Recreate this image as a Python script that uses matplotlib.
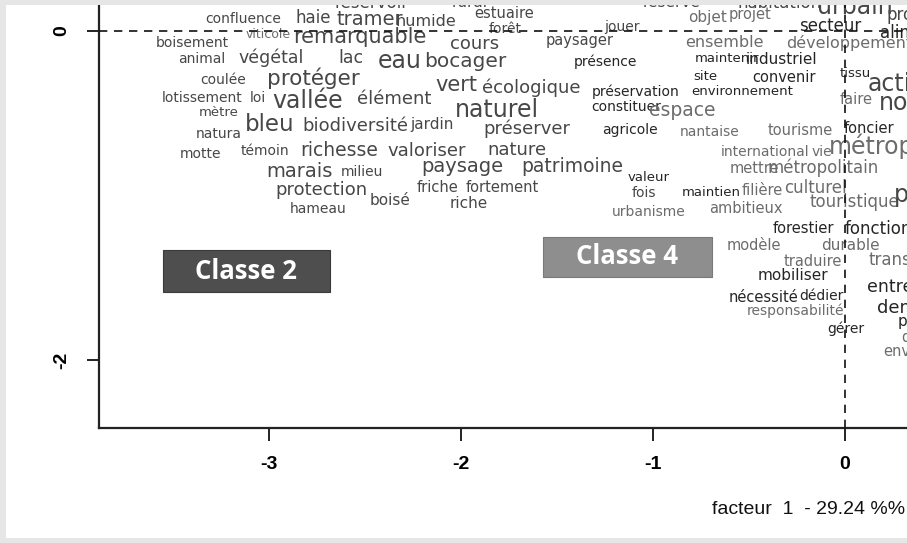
import numpy as np
import matplotlib
matplotlib.use('Agg')
import matplotlib.pyplot as plt
from matplotlib.patches import Rectangle

#--------------------------------------------------------------------------------
#Donnees : mots, coordonnees factorielles (facteur 1, facteur 2), chi2 et classe
#--------------------------------------------------------------------------------
mots = ['réservoir', 'rural', 'réserve', 'habitation', 'urbain', 'proximité', 'alimentaire',
        'confluence', 'haie', 'tramer', 'humide', 'estuaire', 'objet', 'projet', 'secteur',
        'viticole', 'remarquable', 'forêt', 'jouer', 'paysager', 'ensemble', 'développement',
        'boisement', 'cours', 'animal', 'végétal', 'lac', 'eau', 'bocager', 'présence',
        'maintenir', 'industriel', 'tissu', 'coulée', 'protéger', 'site', 'convenir', 'activité',
        'vert', 'écologique', 'préservation', 'environnement', 'lotissement', 'loi', 'vallée',
        'élément', 'faire', 'nouveau', 'constituer', 'espace', 'naturel', 'mètre', 'bleu',
        'biodiversité', 'jardin', 'préserver', 'agricole', 'nantaise', 'tourisme', 'foncier',
        'natura', 'motte', 'témoin', 'richesse', 'valoriser', 'nature', 'international', 'vie',
        'métropole', 'marais', 'milieu', 'paysage', 'patrimoine', 'mettre', 'métropolitain',
        'valeur', 'protection', 'boisé', 'friche', 'fortement', 'fois', 'maintien', 'filière',
        'culturel', 'touristique', 'port', 'hameau', 'riche', 'urbanisme', 'ambitieux',
        'forestier', 'fonctionnement', 'modèle', 'durable', 'traduire', 'transition',
        'mobiliser', 'entreprise', 'nécessité', 'dédier', 'responsabilité', 'demande',
        'produire', 'gérer', 'diversité', 'envisager']

f1 = [-2.464, -1.953, -0.901, -0.339, 0.052, 0.420, 0.427,
      -3.135, -2.771, -2.474, -2.182, -1.776, -0.714, -0.495, -0.078,
      -3.005, -2.526, -1.771, -1.161, -1.380, -0.630, 0.021,
      -3.401, -1.927, -3.349, -2.990, -2.573, -2.318, -1.979, -1.245,
      -0.615, -0.328, 0.052, -3.240, -2.771, -0.729, -0.318, 0.349,
      -2.026, -1.635, -1.089, -0.536, -3.349, -3.057, -2.797,
      -2.349, 0.057, 0.443, -1.141, -0.849, -1.813, -3.260, -2.995,
      -2.552, -2.151, -1.656, -1.120, -0.703, -0.234, 0.125,
      -3.260, -3.359, -3.021, -2.635, -2.177, -1.708, -0.417, -0.120,
      0.234, -2.839, -2.516, -1.995, -1.422, -0.474, -0.115,
      -1.021, -2.729, -2.370, -2.120, -1.786, -1.047, -0.698, -0.432,
      -0.151, 0.052, 0.380, -2.745, -1.958, -1.021, -0.516,
      -0.214, 0.340, -0.474, 0.031, -0.167, 0.328,
      -0.271, 0.349, -0.422, -0.120, -0.255, 0.390,
      0.443, 0.005, 0.458, 0.390]

f2 = [0.172, 0.172, 0.172, 0.172, 0.146, 0.097, -0.012,
      0.073, 0.079, 0.073, 0.061, 0.109, 0.085, 0.103, 0.030,
      -0.018, -0.036, 0.012, 0.024, -0.055, -0.067, -0.073,
      -0.073, -0.079, -0.170, -0.164, -0.164, -0.182, -0.188, -0.188,
      -0.164, -0.170, -0.255, -0.298, -0.286, -0.274, -0.280, -0.322,
      -0.328, -0.347, -0.371, -0.365, -0.407, -0.407, -0.426,
      -0.413, -0.413, -0.438, -0.462, -0.480, -0.480, -0.498, -0.565,
      -0.578, -0.571, -0.596, -0.602, -0.614, -0.602, -0.590,
      -0.626, -0.748, -0.729, -0.729, -0.729, -0.723, -0.736, -0.736,
      -0.699, -0.851, -0.857, -0.821, -0.821, -0.833, -0.833,
      -0.888, -0.967, -1.027, -0.948, -0.948, -0.985, -0.979, -0.967,
      -0.954, -1.040, -0.997, -1.082, -1.046, -1.100, -1.076,
      -1.198, -1.204, -1.301, -1.301, -1.398, -1.392,
      -1.483, -1.556, -1.617, -1.611, -1.702, -1.684,
      -1.763, -1.812, -1.860, -1.945]

chi2 = [60, 50, 50, 60, 110, 60, 60,
        40, 60, 80, 55, 45, 50, 45, 60,
        30, 90, 40, 40, 45, 55, 55,
        40, 70, 40, 65, 65, 110, 85, 40,
        35, 50, 35, 40, 95, 35, 45, 110,
        90, 70, 40, 35, 40, 40, 110,
        70, 45, 110, 40, 75, 110, 35, 105,
        70, 50, 70, 40, 40, 45, 45,
        40, 40, 40, 75, 70, 70, 40, 40,
        110, 80, 40, 80, 75, 45, 60,
        35, 70, 50, 45, 45, 40, 35, 45,
        60, 60, 110, 40, 50, 40, 45,
        45, 60, 45, 50, 45, 60,
        50, 65, 45, 40, 40, 70,
        50, 40, 45, 45]

classe = [2, 2, 2, 2, 2, 2, 1,
          2, 2, 2, 2, 2, 3, 3, 1,
          3, 2, 2, 2, 2, 3, 3,
          2, 2, 2, 2, 2, 2, 2, 1,
          1, 1, 1, 2, 2, 1, 1, 2,
          2, 2, 1, 1, 2, 2, 2,
          2, 3, 2, 1, 3, 2, 2, 2,
          2, 2, 2, 1, 3, 3, 1,
          2, 2, 2, 2, 2, 2, 3, 3,
          3, 2, 2, 2, 2, 3, 3,
          1, 2, 2, 2, 2, 2, 1, 3,
          3, 3, 2, 2, 2, 3, 3,
          1, 1, 3, 3, 3, 3,
          1, 1, 1, 1, 3, 1,
          1, 1, 3, 3]

ticks_x = [-3, -2, -1, 0]
ticks_y = [-2, 0]
titre_x = 'facteur  1  - 29.24 %%'

couleurs = {1: '#252525', 2: '#474747', 3: '#6c6c6c'}
police_axe = ['Liberation Sans Narrow', 'Liberation Sans', 'DejaVu Sans']

#--------------------------------------------------------------------------------
#Figure
#--------------------------------------------------------------------------------
fig = plt.figure(figsize=(9.07, 5.43), dpi=100, facecolor='white')
ax = fig.add_axes([0.1092, 0.2118, 0.9493, 0.837])
ax.set_xlim(-3.885, 0.6)
ax.set_ylim(-2.413, 0.35)

#Mots centres sur leurs coordonnees, taille selon le chi2
for m, x, y, c, k in zip(mots, f1, f2, chi2, classe):
    ax.text(x, y, m, ha='center', va='center', fontsize=6 + c / 10,
            color=couleurs[k], family='DejaVu Sans', zorder=2)

#Axes en pointilles
ax.axhline(0, color='#111111', lw=1.2, ls=(0, (5, 4)), zorder=5)
ax.axvline(0, color='#111111', lw=1.2, ls=(0, (5, 4)), zorder=5)

#Etiquettes des classes
ax.add_patch(Rectangle((-3.552, -1.587), 0.870, 0.256, facecolor='#4e4e4e',
                       edgecolor='#3a3a3a', lw=0.8, zorder=6))
ax.text(-3.117, -1.459, 'Classe 2', ha='center', va='center', color='white',
        fontsize=18.5, fontweight='bold', family='Open Sans', zorder=7)
ax.add_patch(Rectangle((-1.573, -1.495), 0.880, 0.243, facecolor='#8e8e8e',
                       edgecolor='#7a7a7a', lw=0.8, zorder=6))
ax.text(-1.133, -1.373, 'Classe 4', ha='center', va='center', color='white',
        fontsize=18.5, fontweight='bold', family='Open Sans', zorder=7)

#Graduations
ax.set_xticks(ticks_x)
ax.set_yticks(ticks_y)
ax.set_xticklabels([str(t) for t in ticks_x], family=police_axe, fontsize=14, fontweight='bold')
ax.set_yticklabels([str(t) for t in ticks_y], family=police_axe, fontsize=14, fontweight='bold',
                   rotation=90, va='center')
ax.tick_params(axis='x', length=9, width=1.4, color='#222222', pad=11)
ax.tick_params(axis='y', length=9, width=1.4, color='#222222', pad=12)
for s in ['top', 'right']:
    ax.spines[s].set_visible(False)
for s in ['left', 'bottom']:
    ax.spines[s].set_linewidth(1.6)
    ax.spines[s].set_color('#222222')

fig.text(0.998, 33 / 543, titre_x, ha='right', va='center', fontsize=14,
         family=police_axe, color='#111111')

#Cadre gris autour de l'image
gris = '#e6e6e6'
fig.add_artist(Rectangle((0, 1 - 5 / 543), 1, 5 / 543, transform=fig.transFigure,
                         facecolor=gris, edgecolor='none', zorder=20))
fig.add_artist(Rectangle((0, 0), 6 / 907, 1, transform=fig.transFigure,
                         facecolor=gris, edgecolor='none', zorder=20))
fig.add_artist(Rectangle((0, 0), 1, 5 / 543, transform=fig.transFigure,
                         facecolor=gris, edgecolor='none', zorder=20))

fig.savefig('out.png', dpi=100, facecolor='white')
